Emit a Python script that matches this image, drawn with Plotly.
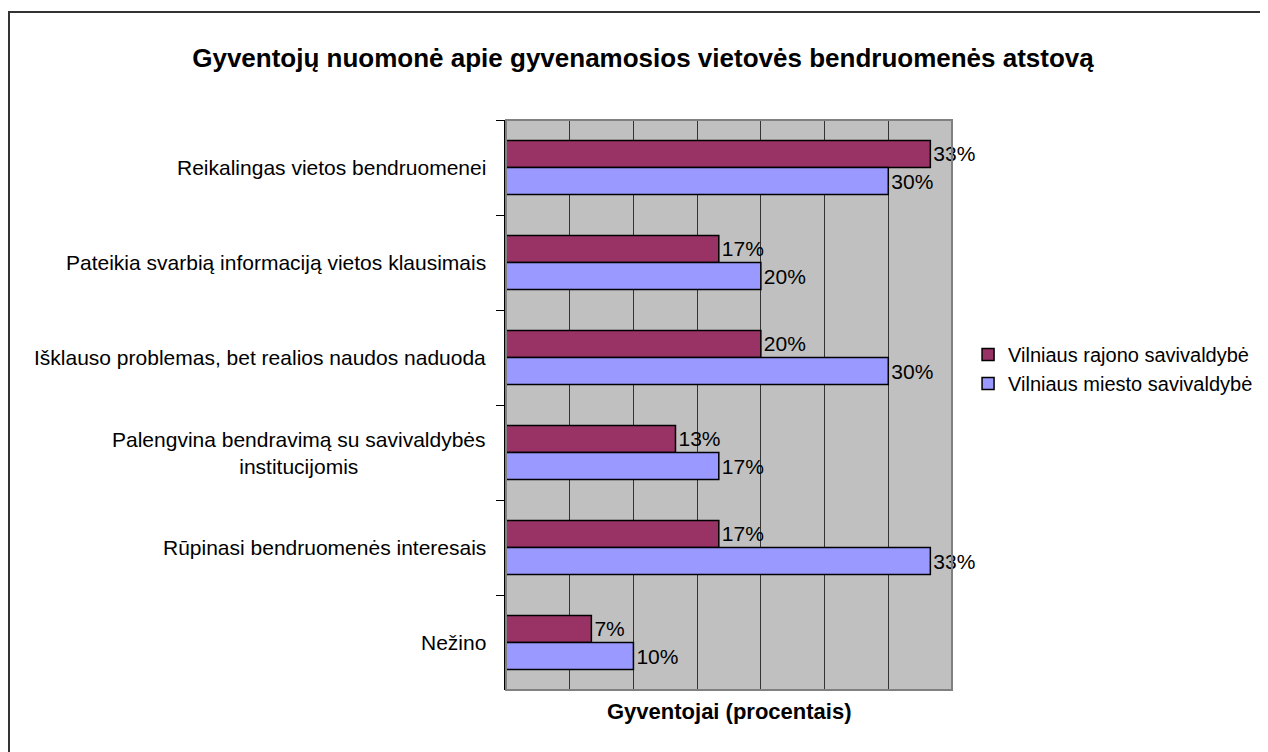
import plotly.graph_objects as go

categories = [
    "Reikalingas vietos bendruomenei",
    "Pateikia svarbią informaciją vietos klausimais",
    "Išklauso problemas, bet realios naudos naduoda",
    "Palengvina bendravimą su savivaldybės<br>institucijomis",
    "Rūpinasi bendruomenės interesais",
    "Nežino",
]
rajono = [33.3, 16.7, 20.0, 13.3, 16.7, 6.7]
miesto = [30.0, 20.0, 30.0, 16.7, 33.3, 10.0]
series_names = ["Vilniaus rajono savivaldybė", "Vilniaus miesto savivaldybė"]
colors = ["#993366", "#9999FF"]

FONT = "Liberation Sans, Arial, sans-serif"

fig = go.Figure()
for name, vals, col in zip(series_names, [rajono, miesto], colors):
    fig.add_trace(go.Bar(
        y=categories, x=vals, name=name, orientation="h",
        marker=dict(color=col, line=dict(color="black", width=1.5)),
        texttemplate="%{x:.0f}%", textposition="outside",
        textfont=dict(family=FONT, size=21, color="black"),
        cliponaxis=False,
    ))

# category labels
for c in categories:
    fig.add_annotation(
        x=0, xref="paper", y=c, yref="y", xanchor="right", xshift=-18,
        text=c, showarrow=False, align="center",
        font=dict(family=FONT, size=21, color="black"),
    )

# axis title
fig.add_annotation(
    x=0.5, xref="paper", y=0, yref="paper", yanchor="top", yshift=-7,
    text="<b>Gyventojai (procentais)</b>", showarrow=False,
    font=dict(family=FONT, size=22, color="black"),
)

# plot area border (top/right)
fig.add_shape(type="rect", xref="paper", yref="paper", x0=0, x1=1, y0=0, y1=1,
              line=dict(color="#808080", width=2), fillcolor="rgba(0,0,0,0)", layer="above")
# outer chart border
fig.add_shape(type="rect", xref="paper", yref="paper",
              x0=(9 - 506) / 446, x1=2.0, y0=-1.0, y1=(690 - 12) / 570,
              line=dict(color="#333333", width=2), fillcolor="rgba(0,0,0,0)")

fig.update_layout(
    width=1260, height=744,
    margin=dict(l=498, r=316, t=112, b=62, autoexpand=False),
    paper_bgcolor="white", plot_bgcolor="#C0C0C0",
    barmode="group", bargap=0.43, bargroupgap=0,
    font=dict(family=FONT, size=21, color="black"),
    title=dict(text="<b>Gyventojų nuomonė apie gyvenamosios vietovės bendruomenės atstovą</b>",
               x=(643 - 8) / 1260, xanchor="center", y=1 - 50 / 744, yanchor="middle", yref="container",
               font=dict(family=FONT, size=26, color="black")),
    legend=dict(x=1.036, xanchor="left", y=0.563, yanchor="middle",
                font=dict(family=FONT, size=20, color="black"),
                bgcolor="rgba(0,0,0,0)", tracegroupgap=4, itemwidth=30),
    showlegend=True,
)
fig.update_xaxes(range=[0, 35], dtick=5, showgrid=True, gridcolor="#333333", gridwidth=1,
                 showticklabels=False, ticks="", zeroline=False, showline=False, fixedrange=True)
fig.update_yaxes(autorange="reversed", showticklabels=False, ticks="outside", tickson="boundaries",
                 ticklen=8, tickcolor="black", tickwidth=1, showline=True, linecolor="black",
                 linewidth=1.5, showgrid=False, fixedrange=True)

fig.write_html("out.html")
